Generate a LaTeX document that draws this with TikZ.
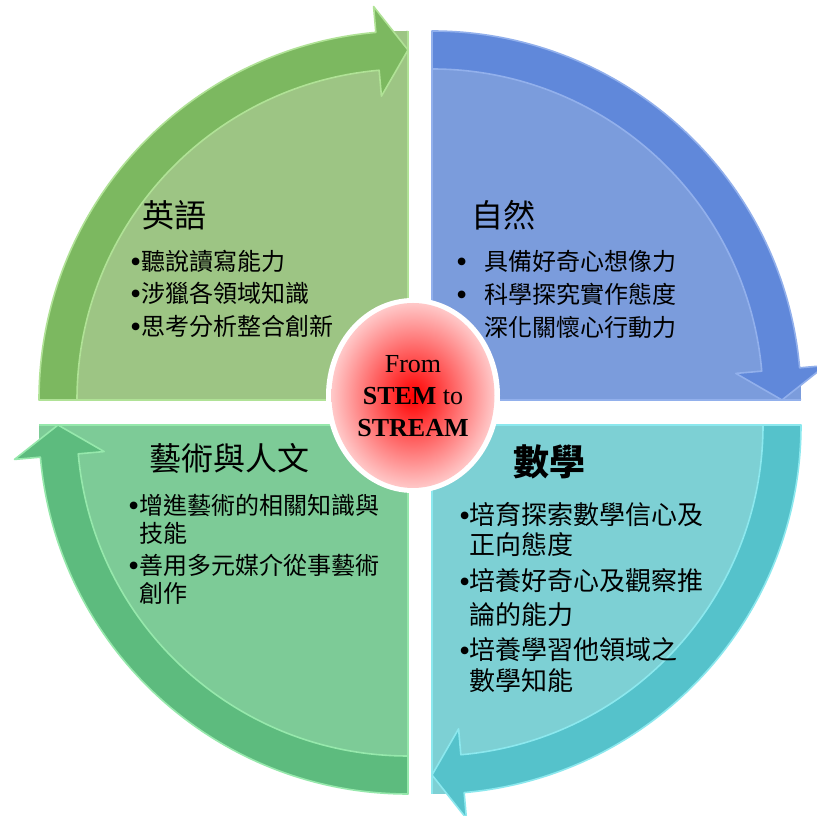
\documentclass[tikz,border=0pt]{standalone}
\usepackage{fontspec}
\setmainfont{Liberation Serif}
\newfontfamily\cjk{Noto Sans CJK TC}
\usetikzlibrary{calc}
\definecolor{tlfill}{RGB}{157,197,132}
\definecolor{tlband}{RGB}{124,184,96}
\definecolor{tledge}{RGB}{176,226,150}
\definecolor{trfill}{RGB}{123,156,220}
\definecolor{trband}{RGB}{96,136,218}
\definecolor{tredge}{RGB}{146,176,236}
\definecolor{blfill}{RGB}{125,203,151}
\definecolor{blband}{RGB}{93,187,126}
\definecolor{bledge}{RGB}{150,232,172}
\definecolor{brfill}{RGB}{125,208,212}
\definecolor{brband}{RGB}{85,194,203}
\definecolor{bredge}{RGB}{140,232,238}
\definecolor{pinkedge}{RGB}{255,200,200}
\newcommand\drawquadrant[6]{%
 \begin{scope}[shift={(#1,#2)}]
  \fill[#4] (0,0) -- (#3:369pt) arc[start angle=#3, end angle=#3-90, radius=369pt] -- cycle;
  \draw[#6, line width=2pt] (#3:369pt) -- (0,0) -- (#3-90:369pt);
  \filldraw[fill=#5, draw=#6, line width=1.6pt, line join=round]
    (#3:369pt) arc[start angle=#3, end angle=#3-85, radius=369pt]
    -- (#3-85:395pt) -- (#3-90:350pt) -- (#3-85:305pt) -- (#3-85:331pt)
    arc[start angle=#3-85, end angle=#3, radius=331pt] -- cycle;
 \end{scope}}
\newcommand\bul{{\rmfamily\fontsize{32pt}{32pt}\selectfont\raisebox{-1.5pt}{•}}}
\tikzset{
  txt/.style={anchor=base west, inner sep=0pt, font=\cjk\fontsize{24pt}{28pt}\selectfont},
  txtb/.style={anchor=base west, inner sep=0pt, font=\cjk\fontsize{26pt}{30pt}\selectfont},
  head/.style={anchor=base west, inner sep=0pt, font=\cjk\fontsize{32pt}{36pt}\selectfont},
  ctext/.style={anchor=base, inner sep=0pt, font=\fontsize{26pt}{32pt}\selectfont}
}
\begin{document}
\begin{tikzpicture}[x=1pt,y=1pt]
\useasboundingbox (0,0) rectangle (817,816);
\fill[white] (0,0) rectangle (817,816);
\drawquadrant{408}{416}{180}{tlfill}{tlband}{tledge}
\drawquadrant{432}{416}{90}{trfill}{trband}{tredge}
\drawquadrant{432}{391}{0}{brfill}{brband}{bredge}
\drawquadrant{408}{391}{270}{blfill}{blband}{bledge}
% center ellipse
\fill[white] (413,420.5) ellipse[x radius=87pt, y radius=97.5pt];
\shade[inner color=red, outer color=pinkedge] (413,420.5) ellipse[x radius=81.5pt, y radius=92.5pt];
\node[ctext] (c1) at (413,443) {From};
\node[ctext] (c2) at (413,411) {\textbf{STEM} to};
\node[ctext] (c3) at (413,379) {\textbf{STREAM}};
% top left
\node[head] (tlh) at (142,588) {英語};
\node[txt] (tl1) at (130,545) {\makebox[11pt][l]{\bul}聽說讀寫能力};
\node[txt] (tl2) at (130,513) {\makebox[11pt][l]{\bul}涉獵各領域知識};
\node[txt] (tl3) at (130,480) {\makebox[11pt][l]{\bul}思考分析整合創新};
% top right
\node[head] (trh) at (471,588) {自然};
\node[txt] (tr1) at (456,545) {\makebox[28pt][l]{\bul}具備好奇心想像力};
\node[txt] (tr2) at (456,512) {\makebox[28pt][l]{\bul}科學探究實作態度};
\node[txt] (tr3) at (484,479) {深化關懷心行動力};
% bottom left
\node[head] (blh) at (149,345) {藝術與人文};
\node[txt] (bl1) at (128,301) {\makebox[11pt][l]{\bul}增進藝術的相關知識與};
\node[txt] (bl2) at (139,273) {技能};
\node[txt] (bl3) at (128,241) {\makebox[11pt][l]{\bul}善用多元媒介從事藝術};
\node[txt] (bl4) at (139,213) {創作};
% bottom right
\node[head, font=\cjk\bfseries\fontsize{36pt}{40pt}\selectfont] (brh) at (513,340) {數學};
\node[txtb] (br1) at (459,291) {\makebox[10pt][l]{\bul}培育探索數學信心及};
\node[txtb] (br2) at (469,261) {正向態度};
\node[txtb] (br3) at (459,225) {\makebox[10pt][l]{\bul}培養好奇心及觀察推};
\node[txtb] (br4) at (469,191) {論的能力};
\node[txtb] (br5) at (459,156) {\makebox[10pt][l]{\bul}培養學習他領域之};
\node[txtb] (br6) at (469,125) {數學知能};
\end{tikzpicture}
\end{document}
